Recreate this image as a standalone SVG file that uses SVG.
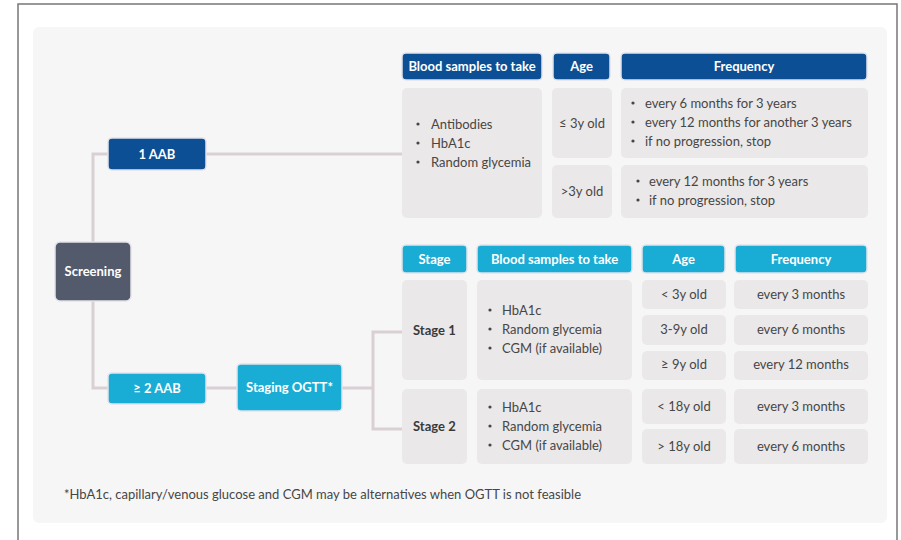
<svg xmlns="http://www.w3.org/2000/svg" width="901" height="540" viewBox="0 0 901 540">
<defs>
<style>
text{font-family:Lato,"Open Sans","Liberation Sans",sans-serif;}
.hd{fill:#fff;font-size:13px;font-weight:700;text-anchor:middle;}
.nb{fill:#fff;font-size:13px;font-weight:700;text-anchor:middle;}
.tx{fill:#464646;font-size:13px;}
.tc{fill:#464646;font-size:13px;text-anchor:middle;}
.st{fill:#3a3a3a;font-size:13px;font-weight:700;}
.dk{fill:#0d4f94;stroke:#e2e2ea;stroke-width:1.5;}
.cy{fill:#19acd4;stroke:#e2e2ea;stroke-width:1.5;}
.cell{fill:#ebe8e9;}
.bul{fill:#464646;}
.con{fill:none;stroke:#d9cfd4;stroke-width:3;}
</style>
</defs>
<rect x="0" y="0" width="901" height="540" fill="#fff"/>
<rect x="18" y="4" width="879" height="545" fill="none" stroke="#777" stroke-width="1.5"/>
<rect x="33" y="27" width="854" height="496" rx="6" fill="#f6f6f6"/>

<g id="connectors">
<polyline class="con" points="108,154 93,154 93,242"/>
<polyline class="con" points="93,301 93,388 108,388"/>
<line class="con" x1="206" y1="154" x2="402" y2="154"/>
<line class="con" x1="206" y1="388" x2="237" y2="388"/>
<line class="con" x1="342" y1="388" x2="373" y2="388"/>
<polyline class="con" points="402,332 373,332 373,429 402,429"/>
</g>

<g id="screening">
<rect x="55" y="242" width="76" height="59" rx="5" fill="#535a6b" stroke="#e2e2ea" stroke-width="1.5"/>
<text class="nb" x="93" y="276">Screening</text>
</g>
<g id="aab1">
<rect class="dk" x="108" y="138" width="98" height="32" rx="4"/>
<text class="nb" x="157" y="159">1 AAB</text>
</g>
<g id="aab2">
<rect class="cy" x="108" y="373" width="98" height="31" rx="4"/>
<text class="nb" x="157" y="393">≥ 2 AAB</text>
</g>
<g id="staging">
<rect class="cy" x="237" y="364" width="105" height="47" rx="4"/>
<text class="nb" x="289.5" y="392">Staging OGTT*</text>
</g>

<g id="top-table">
<rect class="dk" x="402" y="53" width="140" height="27" rx="4"/>
<text class="hd" x="472" y="71">Blood samples to take</text>
<rect class="dk" x="553" y="53" width="57" height="27" rx="4"/>
<text class="hd" x="581.5" y="71">Age</text>
<rect class="dk" x="621" y="53" width="246" height="27" rx="4"/>
<text class="hd" x="744" y="71">Frequency</text>

<rect class="cell" x="402" y="88" width="140" height="130" rx="5"/>
<circle class="bul" cx="418" cy="124" r="1.6"/>
<circle class="bul" cx="418" cy="143" r="1.6"/>
<circle class="bul" cx="418" cy="162" r="1.6"/>
<text class="tx" x="431" y="128.5">Antibodies</text>
<text class="tx" x="431" y="147.5">HbA1c</text>
<text class="tx" x="431" y="166.5">Random glycemia</text>

<rect class="cell" x="552" y="88" width="60" height="70" rx="5"/>
<text class="tc" x="582" y="127.5">≤ 3y old</text>
<rect class="cell" x="552" y="165" width="60" height="53" rx="5"/>
<text class="tc" x="582" y="195.5">&gt;3y old</text>

<rect class="cell" x="621" y="88" width="247" height="70" rx="5"/>
<circle class="bul" cx="633" cy="103" r="1.6"/>
<circle class="bul" cx="633" cy="122" r="1.6"/>
<circle class="bul" cx="633" cy="141" r="1.6"/>
<text class="tx" x="645" y="108">every 6 months for 3 years</text>
<text class="tx" x="645" y="127">every 12 months for another 3 years</text>
<text class="tx" x="645" y="146">if no progression, stop</text>
<rect class="cell" x="621" y="165" width="247" height="53" rx="5"/>
<circle class="bul" cx="638" cy="181" r="1.6"/>
<circle class="bul" cx="638" cy="200" r="1.6"/>
<text class="tx" x="649" y="186">every 12 months for 3 years</text>
<text class="tx" x="649" y="205">if no progression, stop</text>
</g>

<g id="bottom-table">
<rect class="cy" x="402" y="245" width="65" height="28" rx="4"/>
<text class="hd" x="434.5" y="264">Stage</text>
<rect class="cy" x="477" y="245" width="155" height="28" rx="4"/>
<text class="hd" x="554.5" y="264">Blood samples to take</text>
<rect class="cy" x="642" y="245" width="83" height="28" rx="4"/>
<text class="hd" x="683.5" y="264">Age</text>
<rect class="cy" x="735" y="245" width="132" height="28" rx="4"/>
<text class="hd" x="801" y="264">Frequency</text>

<rect class="cell" x="402" y="280" width="65" height="100" rx="5"/>
<text class="st" x="413" y="335">Stage 1</text>
<rect class="cell" x="402" y="389" width="65" height="75" rx="5"/>
<text class="st" x="413" y="431">Stage 2</text>

<rect class="cell" x="477" y="280" width="155" height="100" rx="5"/>
<circle class="bul" cx="490" cy="310" r="1.6"/>
<circle class="bul" cx="490" cy="329" r="1.6"/>
<circle class="bul" cx="490" cy="348" r="1.6"/>
<text class="tx" x="502" y="315">HbA1c</text>
<text class="tx" x="502" y="334">Random glycemia</text>
<text class="tx" x="502" y="353">CGM (if available)</text>
<rect class="cell" x="477" y="389" width="155" height="75" rx="5"/>
<circle class="bul" cx="490" cy="407" r="1.6"/>
<circle class="bul" cx="490" cy="426" r="1.6"/>
<circle class="bul" cx="490" cy="445" r="1.6"/>
<text class="tx" x="502" y="412">HbA1c</text>
<text class="tx" x="502" y="431">Random glycemia</text>
<text class="tx" x="502" y="450">CGM (if available)</text>

<rect class="cell" x="642" y="280" width="84" height="29" rx="5"/>
<text class="tc" x="684" y="299">&lt; 3y old</text>
<rect class="cell" x="642" y="315" width="84" height="30" rx="5"/>
<text class="tc" x="684" y="334">3-9y old</text>
<rect class="cell" x="642" y="351" width="84" height="29" rx="5"/>
<text class="tc" x="684" y="369">≥ 9y old</text>
<rect class="cell" x="642" y="389" width="84" height="35" rx="5"/>
<text class="tc" x="684" y="411">&lt; 18y old</text>
<rect class="cell" x="642" y="429" width="84" height="35" rx="5"/>
<text class="tc" x="684" y="451">&gt; 18y old</text>

<rect class="cell" x="734" y="280" width="134" height="29" rx="5"/>
<text class="tc" x="801" y="299">every 3 months</text>
<rect class="cell" x="734" y="315" width="134" height="30" rx="5"/>
<text class="tc" x="801" y="334">every 6 months</text>
<rect class="cell" x="734" y="351" width="134" height="29" rx="5"/>
<text class="tc" x="801" y="369">every 12 months</text>
<rect class="cell" x="734" y="389" width="134" height="35" rx="5"/>
<text class="tc" x="801" y="411">every 3 months</text>
<rect class="cell" x="734" y="429" width="134" height="35" rx="5"/>
<text class="tc" x="801" y="451">every 6 months</text>
</g>

<text class="tx" x="64" y="499">*HbA1c, capillary/venous glucose and CGM may be alternatives when OGTT is not feasible</text>
</svg>
